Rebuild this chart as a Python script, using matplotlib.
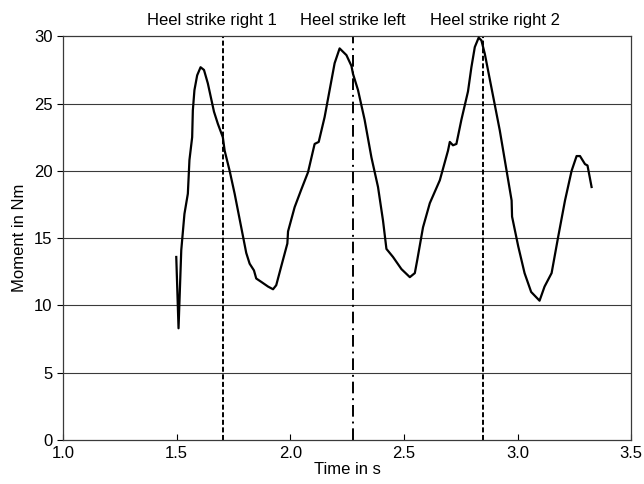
import numpy as np
import matplotlib.pyplot as plt

plt.rcParams['font.family'] = ['Liberation Sans', 'DejaVu Sans']

# moment curve
time_s = [1.498, 1.508, 1.520, 1.534, 1.549, 1.556, 1.568, 1.571, 1.578, 1.590,
          1.605, 1.620, 1.637, 1.664, 1.681, 1.703, 1.711, 1.733, 1.755, 1.784,
          1.806, 1.821, 1.840, 1.850, 1.872, 1.902, 1.924, 1.938, 1.960, 1.987,
          1.990, 2.019, 2.048, 2.078, 2.107, 2.125, 2.151, 2.173, 2.195, 2.217,
          2.247, 2.269, 2.276, 2.298, 2.327, 2.357, 2.386, 2.408, 2.423, 2.452,
          2.489, 2.526, 2.548, 2.559, 2.584, 2.614, 2.658, 2.694, 2.702, 2.716,
          2.731, 2.753, 2.782, 2.797, 2.812, 2.829, 2.841, 2.856, 2.885, 2.922,
          2.952, 2.974, 2.976, 3.003, 3.031, 3.060, 3.097, 3.119, 3.150, 3.179,
          3.209, 3.238, 3.260, 3.275, 3.297, 3.308, 3.326]
moment_nm = [13.6, 8.3, 14.1, 16.8, 18.3, 20.8, 22.5, 24.5, 26.0, 27.1,
             27.7, 27.5, 26.5, 24.4, 23.5, 22.5, 21.5, 20.0, 18.3, 15.8,
             13.9, 13.1, 12.6, 12.0, 11.75, 11.4, 11.2, 11.5, 12.9, 14.6,
             15.5, 17.3, 18.6, 19.9, 22.0, 22.15, 24.0, 26.0, 28.0, 29.1,
             28.6, 27.8, 27.2, 26.0, 23.8, 21.0, 18.8, 16.3, 14.2, 13.6,
             12.7, 12.1, 12.4, 13.4, 15.8, 17.6, 19.3, 21.5, 22.15, 21.9,
             22.0, 23.8, 25.9, 27.7, 29.2, 29.9, 29.7, 28.7, 26.2, 23.0,
             20.0, 17.8, 16.6, 14.4, 12.4, 11.0, 10.35, 11.4, 12.4, 15.1,
             17.8, 20.0, 21.1, 21.1, 20.5, 20.4, 18.8]

# heel strike events
event_names = ["Heel strike right 1", "Heel strike left", "Heel strike right 2"]
event_times = [1.705, 2.278, 2.848]
event_label_x = [1.656, 2.274, 2.899]
event_dashes = [(2.6, 1.3), (6, 2.5, 1, 2.5), (2.6, 1.3)]

fig = plt.figure(figsize=(6.44, 4.84), dpi=100)
ax = fig.add_axes([0.098, 0.091, 0.882, 0.834])

for y in range(5, 30, 5):
    ax.axhline(y, color='#3a3a3a', linewidth=0.8, zorder=1)

ax.plot(time_s, moment_nm, color='black', linewidth=1.6, zorder=3)

for name, t, lx, d in zip(event_names, event_times, event_label_x, event_dashes):
    ax.axvline(t, color='black', linestyle=(0, d), linewidth=1.4, zorder=2)
    ax.text(lx, 30.6, name, ha='center', va='bottom', fontsize=12)

ax.set_xlim(1.0, 3.5)
ax.set_ylim(0, 30)
ax.set_xticks(np.arange(1.0, 3.51, 0.5))
ax.set_xticklabels(["1.0", "1.5", "2.0", "2.5", "3.0", "3.5"])
ax.set_yticks(range(0, 31, 5))
ax.tick_params(axis='x', direction='in', length=4, labelsize=12, pad=4)
ax.tick_params(axis='y', direction='out', length=4, labelsize=12)
for s in ax.spines.values():
    s.set_color('#3a3a3a')
    s.set_linewidth(0.9)

ax.set_xlabel("Time in s", fontsize=12, labelpad=1)
ax.set_ylabel("Moment in Nm", fontsize=12, labelpad=5)

fig.savefig("out.png", dpi=100)
